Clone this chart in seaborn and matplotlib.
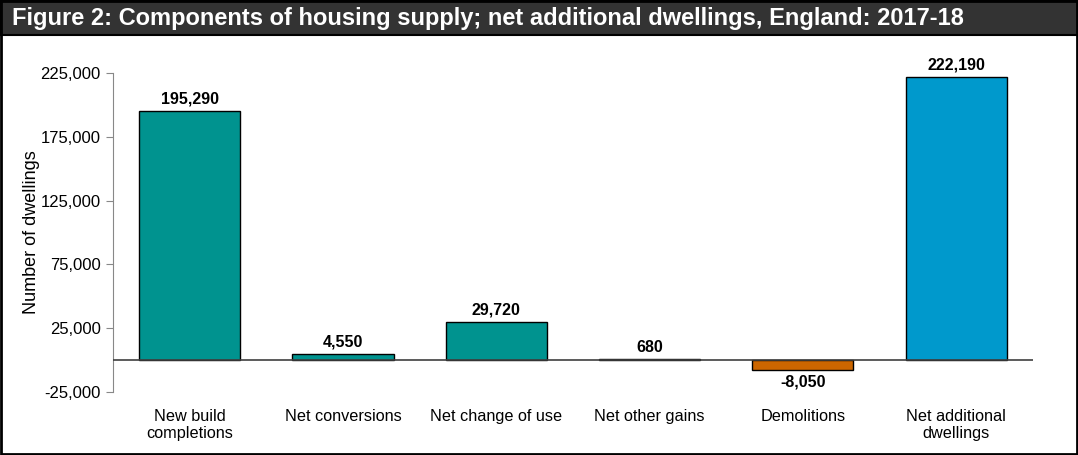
import matplotlib
matplotlib.use("Agg")
import matplotlib.pyplot as plt
import matplotlib.patches as mpatches
import seaborn as sns
import pandas as pd

categories = ["New build\ncompletions", "Net conversions", "Net change of use",
              "Net other gains", "Demolitions", "Net additional\ndwellings"]
values = [195290, 4550, 29720, 680, -8050, 222190]
colors = ["#00938F", "#00938F", "#00938F", "#00938F", "#CC6600", "#0099CC"]
yticks = [-25000, 25000, 75000, 125000, 175000, 225000]
title = "Figure 2: Components of housing supply; net additional dwellings, England: 2017-18"

sns.set_theme(style="white")
plt.rcParams['font.family'] = ['Liberation Sans', 'DejaVu Sans']
plt.rcParams['text.color'] = 'black'
plt.rcParams['axes.labelcolor'] = 'black'
plt.rcParams['xtick.color'] = 'black'
plt.rcParams['ytick.color'] = 'black'

df = pd.DataFrame({"cat": categories, "val": values})

fig = plt.figure(figsize=(10.78, 4.55), dpi=100)
ax = fig.add_axes([0.105, 0.1385, 0.853, 0.701])

sns.barplot(data=df, x="cat", y="val", hue="cat", palette=colors, legend=False,
            edgecolor="black", linewidth=1.0, width=0.66, ax=ax, saturation=1)

ax.set_ylim(-25000, 225000)
ax.set_xlim(-0.5, 5.5)
ax.set_yticks(yticks)
ax.set_yticklabels([f"{t:,}" for t in yticks], fontsize=12)
ax.set_xlabel("")
ax.set_ylabel("Number of dwellings", fontsize=13, labelpad=0)
ax.tick_params(axis="x", length=0, labelsize=11.7, pad=12)
ax.tick_params(axis="y", length=5, width=0.8, color="#888888", direction="out", left=True, pad=4)
for s in ["top", "right", "bottom"]:
    ax.spines[s].set_visible(False)
ax.spines["left"].set_color("#888888")
ax.spines["left"].set_linewidth(0.8)
ax.axhline(0, color="#404040", linewidth=1.2, zorder=3)

for i, v in enumerate(values):
    if v >= 0:
        ax.text(i, v + 3500, f"{v:,}", ha="center", va="bottom", fontsize=11.5, fontweight="bold")
    else:
        ax.text(i, v - 3500, f"{v:,}", ha="center", va="top", fontsize=11.5, fontweight="bold")

# title bar
fig.patches.append(mpatches.Rectangle((0, 1 - 35 / 455), 1, 35 / 455, transform=fig.transFigure,
                                      facecolor="#333333", edgecolor="black", linewidth=1.5, zorder=0))
fig.text(12 / 1078, 1 - 18 / 455, title, color="white", fontsize=17, fontweight="bold",
         ha="left", va="center")
# outer border
fig.patches.append(mpatches.Rectangle((0.001, 0.002), 0.998, 0.996, transform=fig.transFigure,
                                      facecolor="none", edgecolor="black", linewidth=2, zorder=5))

fig.savefig("out.png", dpi=100)
